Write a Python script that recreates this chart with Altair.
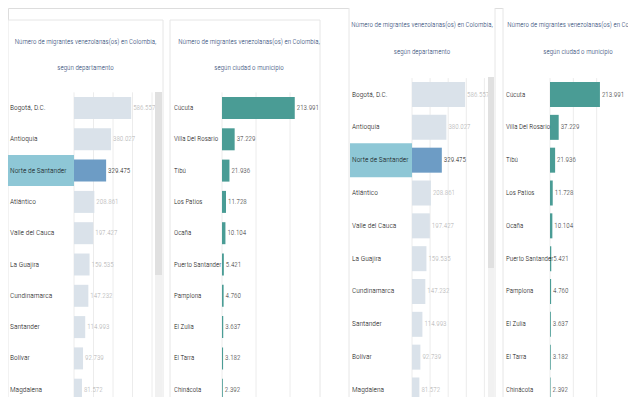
import altair as alt
import pandas as pd

# ---------------- data ----------------
deptos = ["Bogotá, D.C.", "Antioquia", "Norte de Santander", "Atlántico", "Valle del Cauca",
          "La Guajira", "Cundinamarca", "Santander", "Bolívar", "Magdalena"]
dept_vals = [586557, 380027, 329475, 208861, 197427, 159535, 147232, 114993, 92739, 81572]

ciudades = ["Cúcuta", "Villa Del Rosario", "Tibú", "Los Patios", "Ocaña",
            "Puerto Santander", "Pamplona", "El Zulia", "El Tarra", "Chinácota"]
city_vals = [213991, 37229, 21936, 11728, 10104, 5421, 4760, 3637, 3182, 2392]

dept_ticks = [0, 200000, 400000, 600000, 800000]
city_ticks = [0, 100000, 200000]
highlight = "Norte de Santander"

title_dept = ["Número de migrantes venezolanas(os) en Colombia,", "según departamento"]
title_city = ["Número de migrantes venezolanas(os) en Colombia,", "según ciudad o municipio"]

# ---------------- style ----------------
FONT = "Roboto Condensed, DejaVu Sans Condensed, sans-serif"
TITLE_COLOR = "#1f4270"
LABEL_COLOR = "#111111"
DEPT_BAR = "#dae2ea"
DEPT_HL_BAR = "#6d9cc5"
HL_BOX = "#8ec7d6"
CITY_BAR = "#4a9c95"
GRID = "#ececec"
FRAME = "#e6e6e6"

one = pd.DataFrame({"a": [0]})
fmt = "replace(format(datum.v, ','), ',', '.')"


def panel(cats, vals, ticks, dmax, title, g, is_dept):
    df = pd.DataFrame({"cat": cats, "v": vals})
    ys = alt.Scale(domain=cats, range=[g["y0"], g["y0"] + 10 * g["step"]],
                   paddingInner=0, paddingOuter=0)
    xs = alt.Scale(domain=[0, dmax], range=[g["x0"], g["x1"]], nice=False, zero=True)
    Y = alt.Y("cat:N", sort=cats, scale=ys, axis=None)

    layers = []
    layers.append(alt.Chart(one).mark_rect(fill="white", stroke=FRAME, strokeWidth=1).encode(
        x=alt.value(g["fx0"]), x2=alt.value(g["fx1"]), y=alt.value(g["fy0"]), y2=alt.value(g["fy1"])))
    layers.append(alt.Chart(pd.DataFrame({"t": ticks})).mark_rule(color=GRID, strokeWidth=1).encode(
        x=alt.X("t:Q", scale=xs, axis=None), y=alt.value(g["y0"]), y2=alt.value(g["fy1"])))
    for i, line in enumerate(title):
        layers.append(alt.Chart(one).mark_text(
            align="center", baseline="middle", font=FONT, fontWeight=300,
            fontSize=g["tfs"], color=TITLE_COLOR
        ).encode(x=alt.value(g["tx"]), y=alt.value(g["ty"][i]), text=alt.value(line)))
    if is_dept:
        layers.append(alt.Chart(df).transform_filter(alt.datum.cat == highlight).mark_bar(
            color=HL_BOX, height=g["hl_h"]).encode(
            y=Y, x=alt.value(g["hx0"]), x2=alt.value(g["hx1"])))
        bar_color = alt.condition(alt.datum.cat == highlight, alt.value(DEPT_HL_BAR), alt.value(DEPT_BAR))
        val_color = alt.condition(alt.datum.cat == highlight, alt.value(LABEL_COLOR), alt.value("#b0b0b0"))
    else:
        bar_color = alt.value(CITY_BAR)
        val_color = alt.value("#333333")
    layers.append(alt.Chart(df).mark_bar(height=g["bar_h"]).encode(
        x=alt.X("v:Q", scale=xs, axis=None), y=Y, color=bar_color))
    layers.append(alt.Chart(df).mark_text(
        align="left", baseline="middle", font=FONT, fontWeight=300,
        fontSize=g["lfs"], color=LABEL_COLOR
    ).encode(x=alt.value(g["lx"]), y=Y, text="cat:N"))
    layers.append(alt.Chart(df).transform_calculate(lab=fmt).mark_text(
        align="left", baseline="middle", dx=2, font=FONT, fontWeight=300, fontSize=g["vfs"]
    ).encode(x=alt.X("v:Q", scale=xs, axis=None), y=Y, text="lab:N", color=val_color))
    if "sb" in g:
        sx0, sx1, st0, st1 = g["sb"]
        layers.append(alt.Chart(one).mark_rect(color="#f1f1f1").encode(
            x=alt.value(sx0), x2=alt.value(sx1), y=alt.value(st1), y2=alt.value(g["fy1"])))
        layers.append(alt.Chart(one).mark_rect(color="#e0e0e0").encode(
            x=alt.value(sx0), x2=alt.value(sx1), y=alt.value(st0), y2=alt.value(st1)))
    return alt.layer(*layers)


gA = dict(fx0=0, fx1=155, fy0=12, fy1=400, tx=77.5, ty=[34, 60], tfs=7,
          lx=2, lfs=7.5, vfs=7, hx0=0, hx1=66, hl_h=31, y0=84.35, step=31.3, bar_h=22,
          x0=66, x1=144, sb=(147, 154, 84, 267))
gB = dict(fx0=162, fx1=312, fy0=12, fy1=400, tx=241, ty=[34, 60], tfs=7,
          lx=166, lfs=7, vfs=7, y0=84.35, step=31.3, bar_h=22, x0=214, x1=316)
gC = dict(fx0=341, fx1=487, fy0=-5, fy1=400, tx=414, ty=[17, 44], tfs=7,
          lx=344, lfs=7.5, vfs=7, hx0=342, hx1=404, hl_h=34, y0=70.1, step=32.83, bar_h=25,
          x0=404, x1=476.4, sb=(480, 486, 69, 260))
gD = dict(fx0=495, fx1=660, fy0=-5, fy1=400, tx=570, ty=[17, 44], tfs=7,
          lx=498, lfs=7, vfs=7, y0=70.1, step=32.83, bar_h=25, x0=542, x1=612)

pA = panel(deptos, dept_vals, dept_ticks, 800000, title_dept, gA, True)
pB = panel(ciudades, city_vals, city_ticks, 300000, title_city, gB, False)
pC = panel(deptos, dept_vals, dept_ticks, 800000, title_dept, gC, True)
pD = panel(ciudades, city_vals, city_ticks, 300000, title_city, gD, False)

chart = alt.layer(pA, pB, pC, pD).resolve_scale(x="independent", y="independent").properties(
    width=620, height=389, padding=0, autosize=alt.AutoSizeParams(type="none")
).configure_view(stroke=None).configure(background="white")

chart.save("out.html", embed_options={"renderer": "svg", "actions": False})
